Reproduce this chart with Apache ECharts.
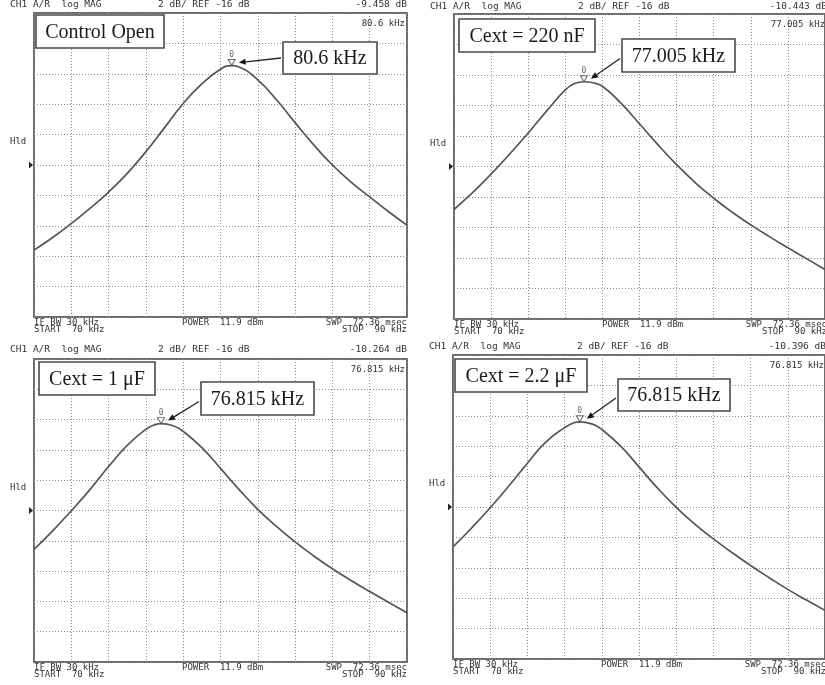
<!DOCTYPE html>
<html>
<head>
<meta charset="utf-8">
<script src="https://cdn.jsdelivr.net/npm/echarts@6/dist/echarts.min.js"></script>
<style>
html,body{margin:0;padding:0;background:#fff;}
#c{width:825px;height:685px;}
</style>
</head>
<body>
<div id="c"></div>
<script>
// ---- data ----
const freq1 = [70,71,72,73,74,75,76,77,78,79,80,80.6,81,82,83,84,85,86,87,88,89,90];
const db1   = [-21.60,-20.77,-19.85,-18.86,-17.78,-16.55,-15.12,-13.54,-11.95,-10.66,-9.70,-9.458,-9.55,-10.40,-11.71,-13.21,-14.68,-16.00,-17.12,-18.10,-19.06,-19.96];
const freq2 = [70,71,72,73,74,75,76,76.5,77.005,77.5,78,79,80,81,82,83,84,85,86,87,88,89,90];
const db2   = [-18.82,-17.72,-16.50,-15.18,-13.80,-12.35,-10.98,-10.56,-10.443,-10.51,-10.74,-11.85,-13.20,-14.58,-15.88,-17.05,-18.08,-19.00,-19.83,-20.60,-21.33,-22.04,-22.75];
const freq3 = [70,71,72,73,74,75,76,76.5,76.815,77.5,78,79,80,81,82,83,84,85,86,87,88,89,90];
const db3   = [-18.57,-17.34,-16.02,-14.62,-13.10,-11.70,-10.64,-10.33,-10.264,-10.42,-10.78,-11.85,-13.22,-14.62,-15.92,-17.05,-18.07,-19.00,-19.85,-20.62,-21.35,-22.06,-22.75];
const freq4 = [70,71,72,73,74,75,76,76.5,76.815,77.5,78,79,80,81,82,83,84,85,86,87,88,89,90];
const db4   = [-18.63,-17.38,-16.05,-14.62,-13.12,-11.72,-10.78,-10.46,-10.396,-10.55,-10.90,-11.98,-13.36,-14.76,-16.02,-17.12,-18.10,-19.00,-19.85,-20.65,-21.42,-22.12,-22.80];

const peakFreq = [80.6, 77.005, 76.815, 76.815];
const peakDb   = [-9.458, -10.443, -10.264, -10.396];
const panelTitles = ['Control Open', 'Cext = 220 nF', 'Cext = 1 \u03bcF', 'Cext = 2.2 \u03bcF'];
const peakLabels  = ['80.6 kHz', '77.005 kHz', '76.815 kHz', '76.815 kHz'];
const markerReadouts = ['80.6 kHz', '77.005 kHz', '76.815 kHz', '76.815 kHz'];
const levelReadouts  = ['-9.458 dB', '-10.443 dB', '-10.264 dB', '-10.396 dB'];
const headerLeft = 'CH1 A/R  log MAG';
const headerMid = '2 dB/ REF -16 dB';
const footerLine1 = ['IF BW 30 kHz', 'POWER  11.9 dBm', 'SWP  72.36 msec'];
const footerLine2 = ['START  70 kHz', 'STOP  90 kHz'];
const xStart = 70, xStop = 90, xDiv = 2;
const yRef = -16, yDiv = 2;

const freqs = [freq1, freq2, freq3, freq4];
const dbs = [db1, db2, db3, db4];

// ---- layout ----
const grids = [
  {left: 34,  top: 13,  width: 373, height: 304},
  {left: 454, top: 14,  width: 373, height: 305},
  {left: 34,  top: 359, width: 373, height: 303},
  {left: 453, top: 355, width: 373, height: 304}
];
const headerY = [5, 7, 350, 347];
const titleBoxes = [
  [36, 15, 128, 33], [459, 19, 136, 33], [39, 362, 116, 33], [455, 359, 132, 33]
];
const peakBoxes = [
  [283, 42, 94, 32], [622, 39, 113, 33], [201, 382, 113, 33], [618, 379, 112, 32]
];

const mono = 'DejaVu Sans Mono';
const serif = 'Liberation Serif';
const txtCol = '#333';

const chart = echarts.init(document.getElementById('c'), null, {renderer: 'canvas'});

const option = {
  backgroundColor: '#fff',
  animation: false,
  grid: grids.map(g => Object.assign({show: true, borderColor: '#6b6b6b', borderWidth: 2, backgroundColor: 'transparent'}, g)),
  xAxis: grids.map((g, i) => ({
    type: 'value', gridIndex: i, min: xStart, max: xStop, interval: xDiv,
    axisLine: {show: false}, axisTick: {show: false}, axisLabel: {show: false},
    splitLine: {show: true, lineStyle: {type: [1, 2], color: '#8c8c8c', width: 1}}
  })),
  yAxis: grids.map((g, i) => ({
    type: 'value', gridIndex: i, min: yRef - 5 * yDiv, max: yRef + 5 * yDiv, interval: yDiv,
    axisLine: {show: false}, axisTick: {show: false}, axisLabel: {show: false},
    splitLine: {show: true, lineStyle: {type: [1, 2], color: '#8c8c8c', width: 1}}
  })),
  series: []
};

for (let i = 0; i < 4; i++) {
  option.series.push({
    type: 'line', xAxisIndex: i, yAxisIndex: i,
    data: freqs[i].map((f, k) => [f, dbs[i][k]]),
    smooth: 0.5, showSymbol: false,
    lineStyle: {color: '#555', width: 1.7}
  });
  option.series.push({
    type: 'scatter', xAxisIndex: i, yAxisIndex: i,
    data: [[peakFreq[i], peakDb[i]]],
    symbol: 'triangle', symbolRotate: 180, symbolSize: [7, 6], symbolOffset: [0, -3],
    itemStyle: {color: '#fff', borderColor: '#444', borderWidth: 1},
    label: {show: true, formatter: '0', position: 'top', distance: 0,
            fontFamily: mono, fontSize: 8, color: '#444'},
    z: 5
  });
}

chart.setOption(option);

// ---- text, boxes and arrows ----
const graphics = [];
function txt(x, y, s, opts) {
  graphics.push({
    type: 'text', x: x, y: y, z: 10,
    style: Object.assign({text: s, fontFamily: mono, fontSize: 9.5, fill: txtCol,
                          textAlign: 'left', textVerticalAlign: 'middle'}, opts || {})
  });
}
for (let i = 0; i < 4; i++) {
  const g = grids[i];
  const L = g.left, R = g.left + g.width, T = g.top, B = g.top + g.height;
  const midY = T + g.height / 2;
  // header
  txt(L - 24, headerY[i], headerLeft);
  txt(L + 124, headerY[i], headerMid);
  txt(R, headerY[i], levelReadouts[i], {textAlign: 'right'});
  // marker readout
  txt(R - 2, T + 11, markerReadouts[i], {textAlign: 'right', fontSize: 9});
  // Hld + reference pointer
  txt(L - 24, midY - 23, 'Hld', {fontSize: 9});
  graphics.push({type: 'polygon', z: 10, shape: {points: [[L - 5, midY - 3.5], [L - 1, midY], [L - 5, midY + 3.5]]},
                 style: {fill: '#222'}});
  // footer
  txt(L, B + 5.5, footerLine1[0], {fontSize: 9});
  txt(L + 148, B + 5.5, footerLine1[1], {fontSize: 9});
  txt(R, B + 5.5, footerLine1[2], {textAlign: 'right', fontSize: 9});
  txt(L, B + 12.5, footerLine2[0], {fontSize: 9});
  txt(R, B + 12.5, footerLine2[1], {textAlign: 'right', fontSize: 9});
  // title box
  const tb = titleBoxes[i];
  graphics.push({type: 'rect', z: 11, shape: {x: tb[0], y: tb[1], width: tb[2], height: tb[3]},
                 style: {fill: '#fff', stroke: '#4a4a4a', lineWidth: 1.6}});
  graphics.push({type: 'text', z: 12, x: tb[0] + tb[2] / 2, y: tb[1] + tb[3] / 2 + 1,
                 style: {text: panelTitles[i], fontFamily: serif, fontSize: 20, fill: '#1a1a1a',
                         textAlign: 'center', textVerticalAlign: 'middle'}});
  // peak box
  const pb = peakBoxes[i];
  graphics.push({type: 'rect', z: 11, shape: {x: pb[0], y: pb[1], width: pb[2], height: pb[3]},
                 style: {fill: '#fff', stroke: '#4a4a4a', lineWidth: 1.6}});
  graphics.push({type: 'text', z: 12, x: pb[0] + pb[2] / 2, y: pb[1] + pb[3] / 2 + 1,
                 style: {text: peakLabels[i], fontFamily: serif, fontSize: 20, fill: '#1a1a1a',
                         textAlign: 'center', textVerticalAlign: 'middle'}});
  // arrow from box to marker
  const p = chart.convertToPixel({gridIndex: i}, [peakFreq[i], peakDb[i]]);
  const tip = [p[0] + 7, p[1] - 3];
  const start = [pb[0] - 2, pb[1] + pb[3] / 2 + (i === 0 ? 0 : 3)];
  const dx = tip[0] - start[0], dy = tip[1] - start[1];
  const len = Math.sqrt(dx * dx + dy * dy);
  const ux = dx / len, uy = dy / len;
  const hl = 7, hw = 3;
  const base = [tip[0] - ux * hl, tip[1] - uy * hl];
  graphics.push({type: 'line', z: 11, shape: {x1: start[0], y1: start[1], x2: base[0], y2: base[1]},
                 style: {stroke: '#222', lineWidth: 1.3}});
  graphics.push({type: 'polygon', z: 11, shape: {points: [tip,
                 [base[0] - uy * hw, base[1] + ux * hw], [base[0] + uy * hw, base[1] - ux * hw]]},
                 style: {fill: '#111'}});
}
chart.setOption({graphic: graphics});
</script>
</body>
</html>
